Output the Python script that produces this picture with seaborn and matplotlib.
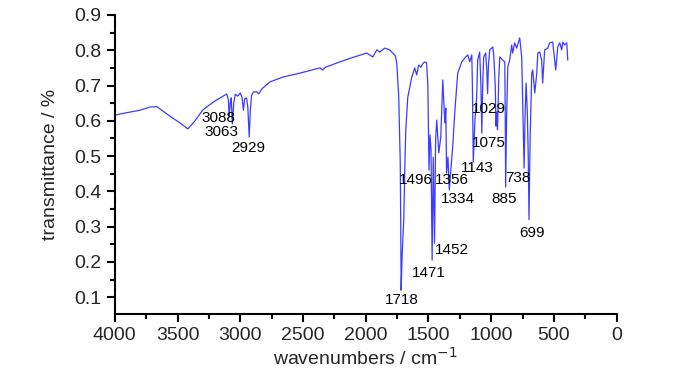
"""
IR spectrum, transmittance vs wavenumber, with peak labels.
"""

#Libraries
import numpy as np
import pandas as pd
import matplotlib
matplotlib.use('Agg')
import matplotlib.pyplot as plt
from matplotlib.ticker import MultipleLocator
import seaborn as sns

#Data
wavenumber = [4000, 3920, 3800, 3720, 3665, 3625, 3560, 3480, 3418, 3363,
              3300, 3283, 3203, 3108, 3095, 3088, 3080, 3072, 3063, 3052,
              3040, 3020, 3000, 2985, 2975, 2965, 2950, 2940, 2929, 2920,
              2910, 2895, 2868, 2853, 2829, 2765, 2661, 2526, 2366, 2343,
              2320, 2207, 2100, 1992, 1944, 1912, 1888, 1849, 1809, 1785,
              1765, 1753, 1737, 1725, 1721, 1718, 1710, 1697, 1688, 1681,
              1665, 1633, 1610, 1594, 1578, 1562, 1545, 1530, 1515, 1505,
              1496, 1488, 1480, 1471, 1462, 1452, 1443, 1434, 1418, 1402,
              1386, 1370, 1362, 1356, 1345, 1334, 1320, 1307, 1291, 1267,
              1235, 1203, 1187, 1171, 1155, 1150, 1143, 1130, 1116, 1108,
              1092, 1082, 1075, 1068, 1060, 1044, 1035, 1029, 1022, 1012,
              988, 980, 968, 962, 956, 950, 940, 932, 908, 892,
              888, 885, 878, 868, 853, 837, 829, 813, 797, 773,
              757, 752, 745, 738, 730, 722, 712, 705, 699, 690,
              677, 669, 653, 637, 629, 613, 598, 590, 574, 550,
              534, 510, 486, 470, 454, 438, 430, 414, 398, 390]
transmittance = [0.616, 0.622, 0.630, 0.639, 0.640, 0.630, 0.613, 0.594, 0.577, 0.599,
                 0.630, 0.635, 0.656, 0.676, 0.660, 0.611, 0.650, 0.665, 0.591, 0.650,
                 0.675, 0.670, 0.679, 0.665, 0.630, 0.662, 0.665, 0.640, 0.554, 0.630,
                 0.672, 0.682, 0.682, 0.676, 0.690, 0.710, 0.724, 0.735, 0.750, 0.744,
                 0.752, 0.767, 0.780, 0.792, 0.781, 0.801, 0.795, 0.806, 0.801, 0.792,
                 0.785, 0.764, 0.667, 0.480, 0.300, 0.120, 0.220, 0.320, 0.480, 0.574,
                 0.667, 0.724, 0.750, 0.730, 0.758, 0.752, 0.762, 0.767, 0.764, 0.700,
                 0.460, 0.560, 0.520, 0.205, 0.497, 0.253, 0.550, 0.602, 0.509, 0.554,
                 0.716, 0.594, 0.636, 0.452, 0.497, 0.404, 0.470, 0.526, 0.622, 0.735,
                 0.767, 0.781, 0.787, 0.767, 0.787, 0.700, 0.483, 0.600, 0.667, 0.772,
                 0.795, 0.700, 0.565, 0.700, 0.781, 0.792, 0.740, 0.677, 0.760, 0.801,
                 0.809, 0.787, 0.700, 0.585, 0.625, 0.575, 0.720, 0.781, 0.772, 0.767,
                 0.600, 0.412, 0.600, 0.752, 0.772, 0.815, 0.792, 0.821, 0.806, 0.835,
                 0.781, 0.700, 0.600, 0.466, 0.620, 0.707, 0.620, 0.500, 0.320, 0.550,
                 0.735, 0.744, 0.679, 0.735, 0.792, 0.795, 0.772, 0.707, 0.801, 0.806,
                 0.821, 0.823, 0.744, 0.809, 0.821, 0.801, 0.823, 0.815, 0.821, 0.772]

#Peak labels and where their text sits
peak_labels = ['3088', '3063', '2929', '1718', '1471', '1452', '1496', '1356',
               '1334', '1143', '1075', '1029', '885', '738', '699']
label_x = [3171, 3147, 2940, 1713, 1498, 1315, 1602, 1315,
           1267, 1108, 1020, 1020, 900, 789, 677]
label_y = [0.608, 0.568, 0.523, 0.091, 0.168, 0.233, 0.432, 0.432,
           0.378, 0.466, 0.537, 0.633, 0.378, 0.438, 0.282]

x_ticks = [4000, 3500, 3000, 2500, 2000, 1500, 1000, 500, 0]
y_ticks = [0.1, 0.2, 0.3, 0.4, 0.5, 0.6, 0.7, 0.8, 0.9]


#Plot
sns.set_style('ticks')
plt.rcParams['font.family'] = ['Liberation Sans', 'DejaVu Sans']

df = pd.DataFrame({'wavenumber': wavenumber, 'transmittance': transmittance})

fig = plt.figure(figsize=(7, 3.74), dpi=100)
ax = fig.add_axes([0.164, 0.160, 0.717, 0.800])

sns.lineplot(data=df, x='wavenumber', y='transmittance', sort=False, estimator=None,
             color='#3c3cff', linewidth=0.9, ax=ax)

for txt, lx, ly in zip(peak_labels, label_x, label_y):
    ax.text(lx, ly, txt, ha='center', va='center', fontsize=11, color='black')

ax.set_xlim(4000, 0)
ax.set_ylim(0.052, 0.9)
ax.set_xticks(x_ticks)
ax.set_yticks(y_ticks)
ax.set_yticklabels([f'{v:.1f}' for v in y_ticks])
ax.xaxis.set_minor_locator(MultipleLocator(250))
ax.yaxis.set_minor_locator(MultipleLocator(0.05))
ax.tick_params(which='major', direction='out', length=6, width=1.5, labelsize=14, color='black')
ax.tick_params(which='minor', direction='out', length=3.5, width=1.5, color='black')

sns.despine(ax=ax)
for side in ['left', 'bottom']:
    ax.spines[side].set_linewidth(1.5)
    ax.spines[side].set_color('black')

ax.set_xlabel('wavenumbers / cm$^{-1}$', fontsize=14, labelpad=2)
ax.set_ylabel('transmittance / %', fontsize=14, labelpad=11)

fig.savefig('out.png', dpi=100)
